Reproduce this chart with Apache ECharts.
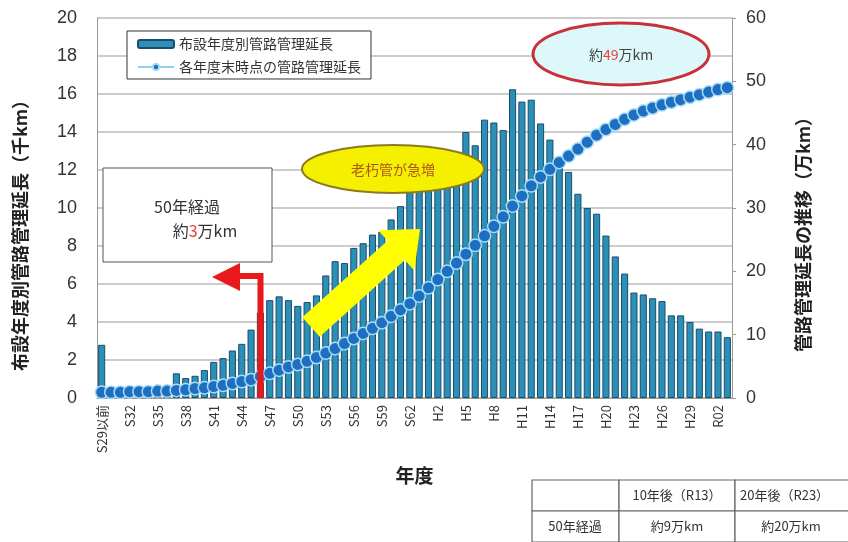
<!DOCTYPE html>
<html>
<head>
<meta charset="utf-8">
<script src="https://cdn.jsdelivr.net/npm/echarts@6/dist/echarts.min.js"></script>
<style>
  html, body { margin: 0; padding: 0; background: #fff; }
  #main { width: 848px; height: 542px; }
</style>
</head>
<body>
<div id="main"></div>
<script>
// 年度カテゴリ
var years = ['S29以前',
    'S30','S31','S32','S33','S34','S35','S36','S37','S38','S39',
    'S40','S41','S42','S43','S44','S45','S46','S47','S48','S49',
    'S50','S51','S52','S53','S54','S55','S56','S57','S58','S59',
    'S60','S61','S62','S63',
    'H1','H2','H3','H4','H5','H6','H7','H8','H9','H10',
    'H11','H12','H13','H14','H15','H16','H17','H18','H19','H20',
    'H21','H22','H23','H24','H25','H26','H27','H28','H29','H30',
    'R01','R02','R03'];

// 布設年度別管路管理延長（千km）
var laidLength = [2.8,
    0.3, 0.3, 0.4, 0.4, 0.5, 0.5, 0.6, 1.3, 1.05, 1.17,
    1.47, 1.9, 2.1, 2.5, 2.85, 3.6, 4.5, 5.15, 5.35, 5.15,
    4.85, 5.05, 5.4, 6.45, 7.2, 7.1, 7.9, 8.15, 8.6, 8.75,
    9.4, 10.1, 11.0, 11.4,
    11.8, 12.1, 12.4, 12.8, 14.0, 13.3, 14.65, 14.5, 14.1, 16.25,
    15.6, 15.7, 14.45, 13.6, 12.7, 11.9, 10.75, 10.0, 9.7, 8.55,
    7.45, 6.55, 5.55, 5.45, 5.25, 5.1, 4.35, 4.35, 4.0, 3.65,
    3.5, 3.5, 3.2];

// 各年度末時点の管路管理延長（万km）
var totalLength = [0.9,
    0.9, 0.9, 1.0, 1.0, 1.0, 1.1, 1.1, 1.2, 1.3, 1.5,
    1.6, 1.8, 2.0, 2.3, 2.6, 2.9, 3.4, 3.9, 4.4, 4.9,
    5.3, 5.8, 6.4, 7.1, 7.8, 8.6, 9.4, 10.2, 11.0, 11.9,
    12.9, 13.9, 14.9, 16.1,
    17.4, 18.7, 20.0, 21.3, 22.7, 24.1, 25.6, 27.1, 28.6, 30.3,
    31.9, 33.5, 34.9, 36.1, 37.2, 38.2, 39.3, 40.4, 41.5, 42.4,
    43.2, 44.0, 44.7, 45.3, 45.8, 46.3, 46.7, 47.1, 47.5, 47.9,
    48.3, 48.7, 49.0];

var seriesNames = ['布設年度別管路管理延長', '各年度末時点の管路管理延長'];

var tableRows = [
    ['', '10年後（R13）', '20年後（R23）'],
    ['50年経過', '約9万km', '約20万km']
];

var jp = '"Noto Sans CJK JP", sans-serif';
var num = '"Liberation Sans", Arial, sans-serif';

var chart = echarts.init(document.getElementById('main'));

// 黄色い矢印の頂点
function arrowPoints(sx, sy, tx, ty, shaftW, headW, headL) {
    var dx = tx - sx, dy = ty - sy;
    var len = Math.sqrt(dx * dx + dy * dy);
    var ux = dx / len, uy = dy / len;
    var nx = -uy, ny = ux;
    var hx = tx - ux * headL, hy = ty - uy * headL;
    return [
        [sx + nx * shaftW, sy + ny * shaftW],
        [hx + nx * shaftW, hy + ny * shaftW],
        [hx + nx * headW, hy + ny * headW],
        [tx, ty],
        [hx - nx * headW, hy - ny * headW],
        [hx - nx * shaftW, hy - ny * shaftW],
        [sx - nx * shaftW, sy - ny * shaftW]
    ];
}

// 表
var tableEls = [];
var colX = [532, 619, 735, 880];
var rowY = [480, 511, 542];
var textX = [575, 677, 740];
for (var r = 0; r < tableRows.length; r++) {
    for (var c = 0; c < 3; c++) {
        tableEls.push({
            type: 'rect',
            shape: { x: colX[c], y: rowY[r], width: colX[c + 1] - colX[c], height: rowY[r + 1] - rowY[r] },
            style: { fill: '#fff', stroke: '#666', lineWidth: 1.2 },
            z: 100
        });
        var left = (c == 2 && r == 0);
        tableEls.push({
            type: 'text',
            x: left ? textX[2] : (c == 2 ? 791 : textX[c]),
            y: (rowY[r] + rowY[r + 1]) / 2,
            style: {
                text: tableRows[r][c],
                font: '13px ' + jp,
                fill: '#333',
                align: left ? 'left' : 'center',
                verticalAlign: 'middle'
            },
            z: 101
        });
    }
}

var option = {
    backgroundColor: '#fff',
    animation: false,
    grid: { left: 97, right: 116, top: 18, bottom: 144 },
    legend: {
        data: seriesNames,
        orient: 'vertical',
        left: 127,
        top: 31,
        backgroundColor: '#fff',
        borderColor: '#333',
        borderWidth: 1,
        borderRadius: 0,
        padding: [6, 10, 5, 10],
        itemGap: 9,
        itemWidth: 36,
        itemHeight: 8,
        textStyle: { fontSize: 14, color: '#333', fontFamily: jp }
    },
    xAxis: {
        type: 'category',
        data: years,
        name: '年度',
        nameLocation: 'middle',
        nameGap: 68,
        nameTextStyle: { fontSize: 19, fontWeight: 'bold', color: '#222', fontFamily: jp },
        axisLine: { lineStyle: { color: '#999', width: 1 } },
        axisTick: { show: false },
        axisLabel: {
            interval: 2,
            rotate: 90,
            margin: 7,
            fontSize: 13,
            color: '#333',
            fontFamily: jp
        }
    },
    yAxis: [{
        type: 'value',
        min: 0,
        max: 20,
        interval: 2,
        name: '布設年度別管路管理延長（千km）',
        nameLocation: 'middle',
        nameGap: 68,
        nameRotate: 90,
        nameTextStyle: { fontSize: 18, fontWeight: 'bold', color: '#222', fontFamily: jp, padding: [0, 46, 0, 0] },
        axisLine: { show: true, lineStyle: { color: '#999' } },
        axisTick: { show: false },
        axisLabel: { fontSize: 18, color: '#333', margin: 20, fontFamily: num },
        splitLine: { lineStyle: { color: '#bbb', width: 1.5 } }
    }, {
        type: 'value',
        min: 0,
        max: 60,
        interval: 10,
        name: '管路管理延長の推移（万km）',
        nameLocation: 'middle',
        nameGap: 62,
        nameRotate: 90,
        nameTextStyle: { fontSize: 18, fontWeight: 'bold', color: '#222', fontFamily: jp, padding: [0, 44, 0, 0] },
        axisLine: { show: true, lineStyle: { color: '#999' } },
        axisTick: { show: true, length: 4, lineStyle: { color: '#999' } },
        axisLabel: { fontSize: 18, color: '#333', margin: 14, fontFamily: num },
        splitLine: { show: false }
    }],
    series: [{
        name: seriesNames[0],
        type: 'bar',
        data: laidLength,
        barCategoryGap: '24%',
        itemStyle: { color: '#2b8fb8', borderColor: '#1b4d6b', borderWidth: 1 },
        z: 2
    }, {
        name: seriesNames[1],
        type: 'line',
        yAxisIndex: 1,
        data: totalLength,
        symbol: 'circle',
        symbolSize: 12.5,
        showAllSymbol: true,
        lineStyle: { color: '#8cd2f2', width: 3 },
        itemStyle: { color: '#1e6fc2', borderColor: '#a5dcf6', borderWidth: 1.5 },
        z: 3
    }],
    graphic: [
        // 50年経過の枠
        {
            type: 'rect',
            shape: { x: 103, y: 168, width: 169, height: 94 },
            style: { fill: '#fff', stroke: '#555', lineWidth: 1 },
            z: 100
        },
        {
            type: 'text', x: 187, y: 207,
            style: { text: '50年経過', font: '16px ' + jp, fill: '#333', align: 'center', verticalAlign: 'middle' },
            z: 101
        },
        {
            type: 'text', x: 205, y: 231,
            style: {
                text: '約{r|3}万km', font: '16px ' + jp, fill: '#333', align: 'center', verticalAlign: 'middle',
                rich: { r: { fill: '#e8403c', font: '16px ' + jp } }
            },
            z: 101
        },
        // 赤い矢印
        {
            type: 'polyline',
            shape: { points: [[260.5, 398], [260.5, 276], [236, 276]] },
            style: { stroke: '#e8191b', lineWidth: 6, fill: null },
            z: 100
        },
        {
            type: 'polygon',
            shape: { points: [[212, 277], [240, 263], [240, 291]] },
            style: { fill: '#e8191b' },
            z: 100
        },
        // 黄色い矢印
        {
            type: 'polygon',
            shape: { points: arrowPoints(311, 327, 420, 229, 13, 27, 32) },
            style: { fill: '#ffff00' },
            z: 100
        },
        // 老朽管が急増
        {
            type: 'ellipse',
            shape: { cx: 393, cy: 169, rx: 91, ry: 24 },
            style: { fill: '#f4f000', stroke: '#8c7a1e', lineWidth: 2 },
            z: 100
        },
        {
            type: 'text', x: 393, y: 170,
            style: { text: '老朽管が急増', font: '14px ' + jp, fill: '#b0561a', align: 'center', verticalAlign: 'middle' },
            z: 101
        },
        // 約49万km
        {
            type: 'ellipse',
            shape: { cx: 621, cy: 54, rx: 88, ry: 31 },
            style: { fill: '#dcf8f8', stroke: '#c8303a', lineWidth: 3 },
            z: 100
        },
        {
            type: 'text', x: 621, y: 55,
            style: {
                text: '約{r|49}万km', font: '14px ' + jp, fill: '#444', align: 'center', verticalAlign: 'middle',
                rich: { r: { fill: '#e8403c', font: '14px ' + jp } }
            },
            z: 101
        }
    ].concat(tableEls)
};

chart.setOption(option);
</script>
</body>
</html>
